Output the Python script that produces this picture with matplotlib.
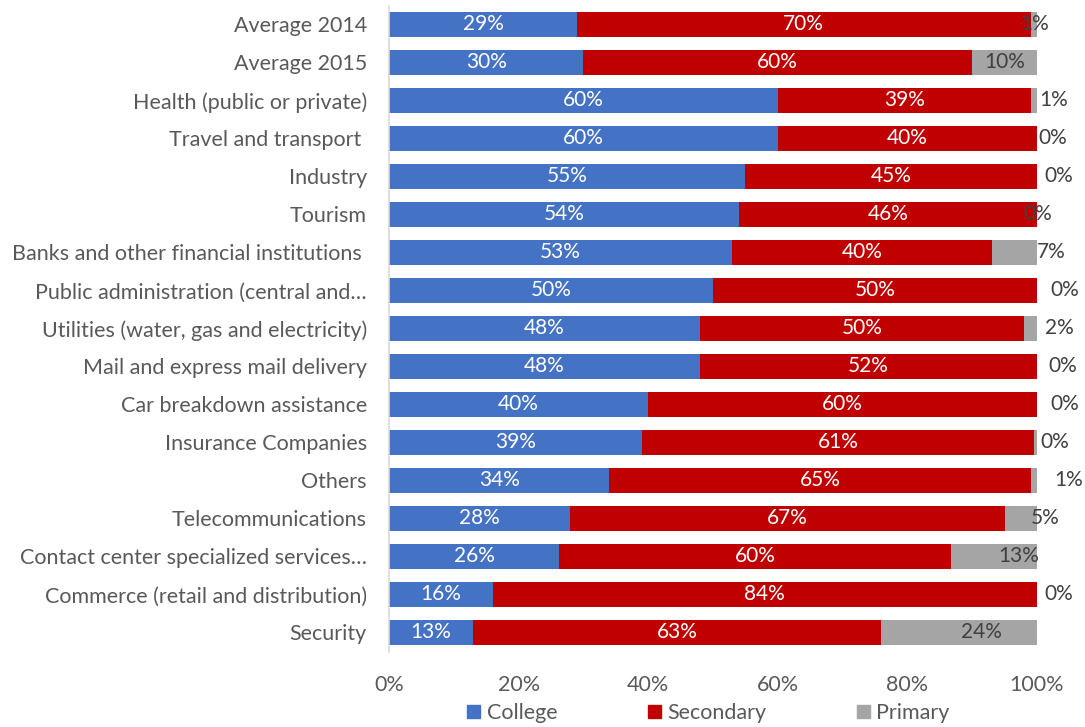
import matplotlib
matplotlib.use("Agg")
import matplotlib.pyplot as plt
from matplotlib.patches import Patch

plt.rcParams['font.family'] = ['Lato', 'DejaVu Sans']

categories = [
    "Average 2014",
    "Average 2015",
    "Health (public or private)",
    "Travel and transport ",
    "Industry",
    "Tourism",
    "Banks and other financial institutions ",
    "Public administration (central and\u2026",
    "Utilities (water, gas and electricity)",
    "Mail and express mail delivery",
    "Car breakdown assistance",
    "Insurance Companies",
    "Others",
    "Telecommunications",
    "Contact center specialized services\u2026",
    "Commerce (retail and distribution)",
    "Security",
]
college = [29, 30, 60, 60, 55, 54, 53, 50, 48, 48, 40, 39, 34, 28, 26.3, 16, 13]
secondary = [70, 60, 39, 40, 45, 46, 40, 50, 50, 52, 60, 60.6, 65, 67, 60.4, 84, 63]
primary = [1, 10, 1, 0, 0, 0, 7, 0, 2, 0, 0, 0.4, 1, 5, 13.3, 0, 24]
series_names = ["College", "Secondary", "Primary"]
x_ticks = [0, 20, 40, 60, 80, 100]

# where the Primary value labels sit along the axis (moved clear of thin slivers)
primary_label_x = [99.6, 95.0, 102.5, 102.4, 103.4, 100.1, 102.2, 104.3, 103.5,
                   103.9, 104.3, 102.8, 104.9, 101.2, 97.1, 103.4, 91.4]

colors = ["#4472C4", "#C00000", "#A5A5A5"]
text_gray = "#595959"

fig = plt.figure(figsize=(10.85, 7.27), dpi=100)
ax = fig.add_axes([389 / 1085, 1 - 651.5 / 727, 648 / 1085, 646 / 727])

y = list(range(len(categories)))
left2 = [c for c in college]
left3 = [c + s for c, s in zip(college, secondary)]
h = 0.66
ax.barh(y, college, height=h, color=colors[0], label=series_names[0])
ax.barh(y, secondary, left=left2, height=h, color=colors[1], label=series_names[1])
ax.barh(y, primary, left=left3, height=h, color=colors[2], label=series_names[2])

fs_val = 15
for i in y:
    ax.text(college[i] / 2, i, f"{round(college[i])}%", ha="center", va="center",
            color="white", fontsize=fs_val)
    ax.text(left2[i] + secondary[i] / 2, i, f"{round(secondary[i])}%", ha="center",
            va="center", color="white", fontsize=fs_val)
    ax.text(primary_label_x[i], i, f"{round(primary[i])}%", ha="center", va="center",
            color="#404040", fontsize=fs_val)

ax.set_ylim(len(categories) - 0.5, -0.5)
ax.set_xlim(0, 100)
ax.set_yticks(y)
ax.set_yticklabels(categories, fontsize=15.5, color=text_gray)
ax.set_xticks(x_ticks)
ax.set_xticklabels([f"{t}%" for t in x_ticks], fontsize=15.5, color=text_gray)
ax.tick_params(axis="both", length=0)
ax.tick_params(axis="x", pad=17)
ax.tick_params(axis="y", pad=16)
for s in ["top", "right", "bottom"]:
    ax.spines[s].set_visible(False)
ax.spines["left"].set_color("#D9D9D9")
ax.spines["left"].set_linewidth(1.2)

handles = [Patch(color=c) for c in colors]
fig.legend(handles, series_names, loc="center", bbox_to_anchor=(0.653, 1 - 713 / 727),
           ncol=3, frameon=False, fontsize=15.5, handlelength=0.6, handleheight=0.6,
           handletextpad=0.3, columnspacing=4.2, labelcolor=text_gray)

fig.savefig("out.png", dpi=100)
